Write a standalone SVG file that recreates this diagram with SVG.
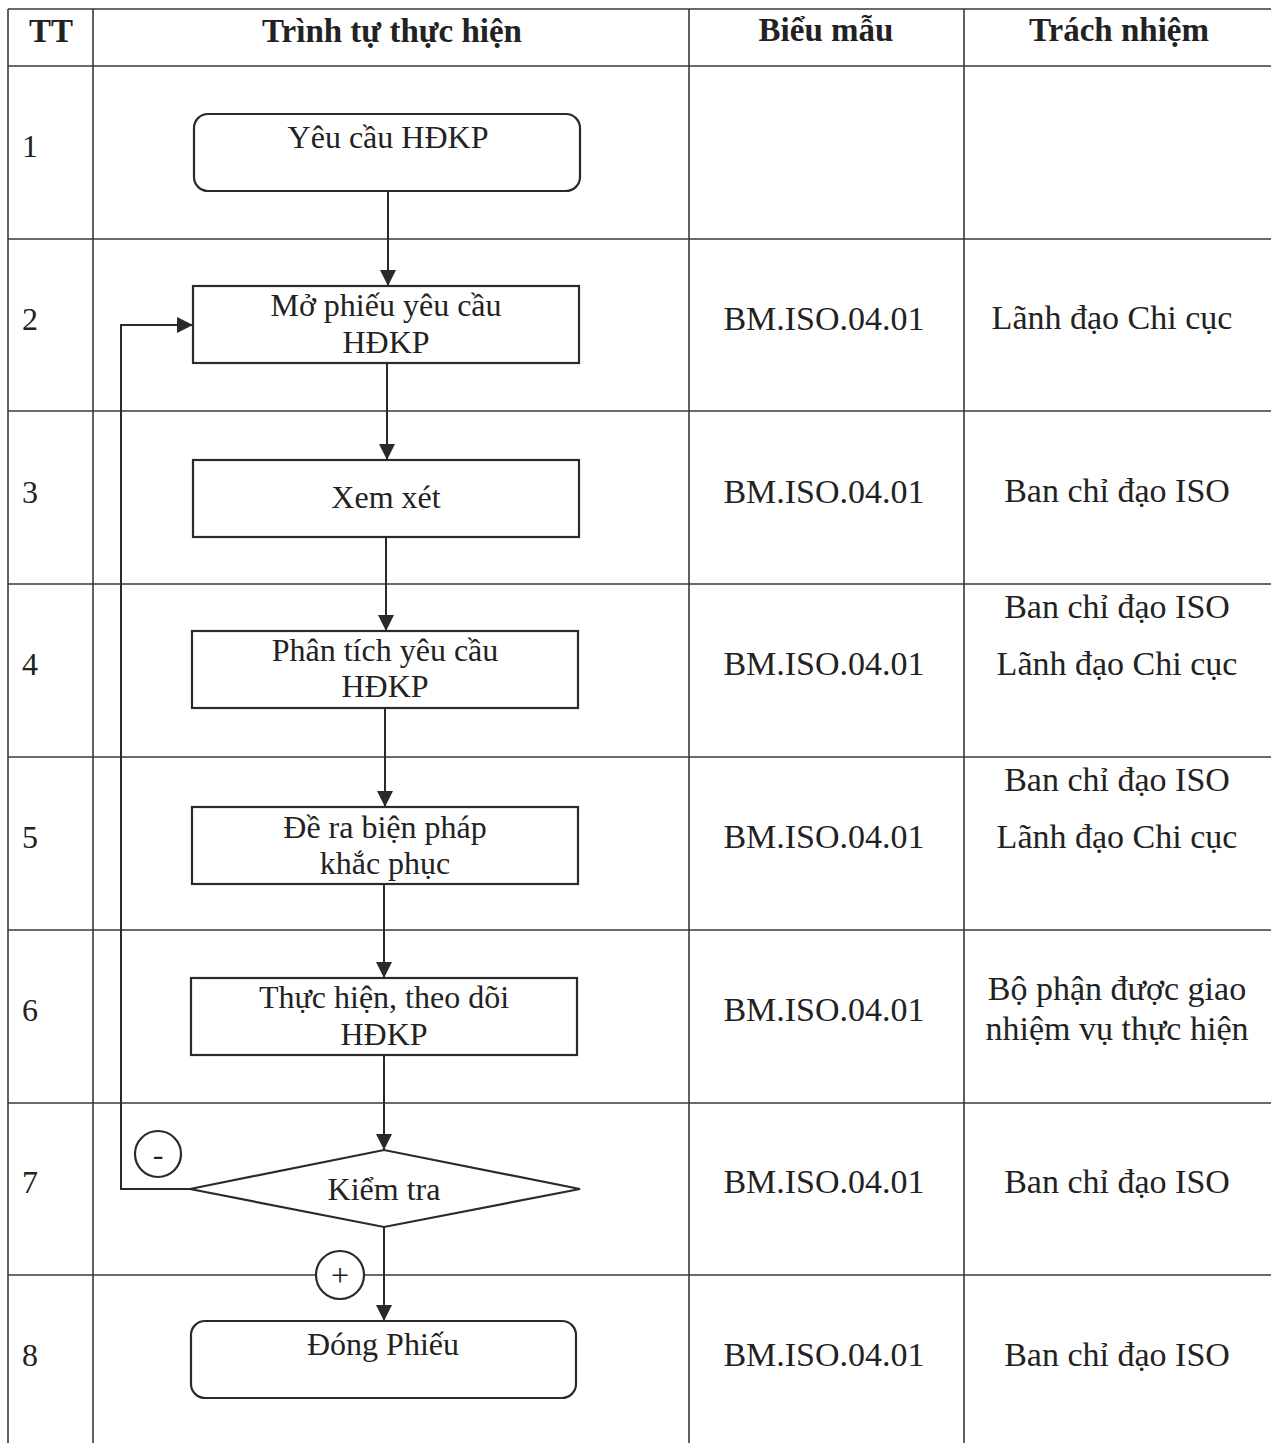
<svg xmlns="http://www.w3.org/2000/svg" width="1271" height="1443" viewBox="0 0 1271 1443">
<style>
.grid{stroke:#3a3a3a;stroke-width:1.6;fill:none}
.box{fill:#fff;stroke:#2a2a2a;stroke-width:2.2}
.con{stroke:#2a2a2a;stroke-width:2;fill:none}
text{font-family:"Liberation Serif","Times New Roman",serif;fill:#222;font-size:32px;text-anchor:middle}
.hd{font-weight:bold;font-size:33px}
.num{text-anchor:start;font-size:32px}
.c{font-size:34px}
</style>
<defs>
<marker id="ah" viewBox="0 0 16 16" refX="16" refY="8" markerWidth="16" markerHeight="16" markerUnits="userSpaceOnUse" orient="auto">
<path d="M0,0 L16,8 L0,16 Z" fill="#2a2a2a"/>
</marker>
</defs>
<rect width="1271" height="1443" fill="#fff"/>
<g id="table">
<path class="grid" d="M8,9 H1271 M8,66 H1271 M8,239 H1271 M8,411 H1271 M8,584 H1271 M8,757 H1271 M8,930 H1271 M8,1103 H1271 M8,1275 H1271 M8,9 V1443 M93,9 V1443 M689,9 V1443 M964,9 V1443"/>
<text class="hd" x="51" y="42">TT</text>
<text class="hd" x="392" y="42">Trình tự thực hiện</text>
<text class="hd" x="826" y="41">Biểu mẫu</text>
<text class="hd" x="1119" y="41">Trách nhiệm</text>
<text class="num" x="22" y="157">1</text>
<text class="num" x="22" y="330">2</text>
<text class="num" x="22" y="503">3</text>
<text class="num" x="22" y="675">4</text>
<text class="num" x="22" y="848">5</text>
<text class="num" x="22" y="1021">6</text>
<text class="num" x="22" y="1193">7</text>
<text class="num" x="22" y="1366">8</text>
<text class="c" x="824" y="330">BM.ISO.04.01</text>
<text class="c" x="824" y="503">BM.ISO.04.01</text>
<text class="c" x="824" y="675">BM.ISO.04.01</text>
<text class="c" x="824" y="848">BM.ISO.04.01</text>
<text class="c" x="824" y="1021">BM.ISO.04.01</text>
<text class="c" x="824" y="1193">BM.ISO.04.01</text>
<text class="c" x="824" y="1366">BM.ISO.04.01</text>
<text class="c" x="1112" y="329">Lãnh đạo Chi cục</text>
<text class="c" x="1117" y="502">Ban chỉ đạo ISO</text>
<text class="c" x="1117" y="618">Ban chỉ đạo ISO</text>
<text class="c" x="1117" y="675">Lãnh đạo Chi cục</text>
<text class="c" x="1117" y="791">Ban chỉ đạo ISO</text>
<text class="c" x="1117" y="848">Lãnh đạo Chi cục</text>
<text class="c" x="1117" y="1000">Bộ phận được giao</text>
<text class="c" x="1117" y="1040">nhiệm vụ thực hiện</text>
<text class="c" x="1117" y="1193">Ban chỉ đạo ISO</text>
<text class="c" x="1117" y="1366">Ban chỉ đạo ISO</text>
</g>
<g id="connectors">
<path class="con" d="M388,191 V286" marker-end="url(#ah)"/>
<path class="con" d="M387,363 V460" marker-end="url(#ah)"/>
<path class="con" d="M386,537 V631" marker-end="url(#ah)"/>
<path class="con" d="M385,708 V807" marker-end="url(#ah)"/>
<path class="con" d="M384,884 V978" marker-end="url(#ah)"/>
<path class="con" d="M384,1055 V1150" marker-end="url(#ah)"/>
<path class="con" d="M384,1227 V1321" marker-end="url(#ah)"/>
<path class="con" d="M190,1189 H121 V325 H193" marker-end="url(#ah)"/>
<g id="minus"><circle class="box" cx="158" cy="1154" r="23"/><text x="158" y="1165" font-size="30">-</text></g>
<g id="plus"><circle class="box" cx="340" cy="1275" r="24"/><text x="340" y="1286" font-size="30">+</text></g>
</g>
<g id="n1"><rect class="box" x="194" y="114" width="386" height="77" rx="14"/><text x="388" y="148">Yêu cầu HĐKP</text></g>
<g id="n2"><rect class="box" x="193" y="286" width="386" height="77"/><text x="386" y="316">Mở phiếu yêu cầu</text><text x="386" y="353">HĐKP</text></g>
<g id="n3"><rect class="box" x="193" y="460" width="386" height="77"/><text x="386" y="508">Xem xét</text></g>
<g id="n4"><rect class="box" x="192" y="631" width="386" height="77"/><text x="385" y="661">Phân tích yêu cầu</text><text x="385" y="697">HĐKP</text></g>
<g id="n5"><rect class="box" x="192" y="807" width="386" height="77"/><text x="385" y="838">Đề ra biện pháp</text><text x="385" y="874">khắc phục</text></g>
<g id="n6"><rect class="box" x="191" y="978" width="386" height="77"/><text x="384" y="1008">Thực hiện, theo dõi</text><text x="384" y="1045">HĐKP</text></g>
<g id="n7"><polygon class="box" points="190,1189 384,1150 580,1189 384,1227"/><text x="384" y="1200">Kiểm tra</text></g>
<g id="n8"><rect class="box" x="191" y="1321" width="385" height="77" rx="14"/><text x="383" y="1355">Đóng Phiếu</text></g>
</svg>
